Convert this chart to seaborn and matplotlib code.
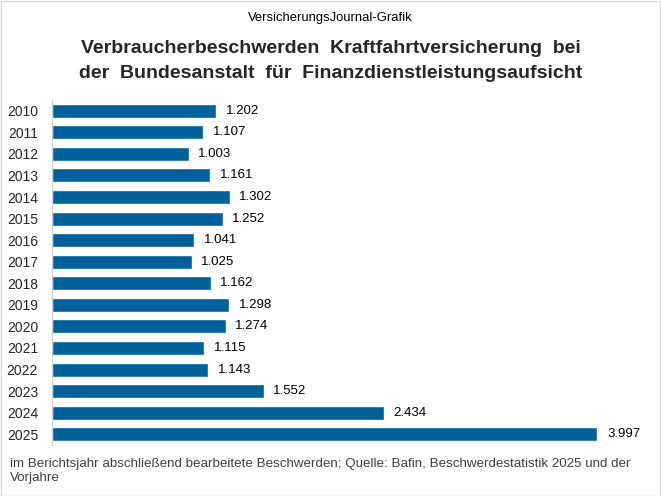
import pandas as pd
import seaborn as sns
import matplotlib.pyplot as plt
from matplotlib.patches import Rectangle

# Daten
jahre = ["2010", "2011", "2012", "2013", "2014", "2015", "2016", "2017",
         "2018", "2019", "2020", "2021", "2022", "2023", "2024", "2025"]
beschwerden = [1202, 1107, 1003, 1161, 1302, 1252, 1041, 1025,
               1162, 1298, 1274, 1115, 1143, 1552, 2434, 3997]

df = pd.DataFrame({"Jahr": jahre, "Beschwerden": beschwerden})

sns.set_style("white")
plt.rcParams["font.family"] = ["Liberation Sans", "DejaVu Sans"]

fig = plt.figure(figsize=(6.61, 4.96), dpi=100)
ax = fig.add_axes([52 / 661, 1 - 445 / 496, 580 / 661, 345 / 496])

sns.barplot(data=df, x="Beschwerden", y="Jahr", color="#00609a",
            saturation=1, width=0.65, ax=ax)

# Werte rechts neben den Balken (deutsches Tausendertrennzeichen)
for i, v in enumerate(beschwerden):
    ax.text(v + 70, i, f"{v:,}".replace(",", "."), va="center", ha="left",
            fontsize=9.5, color="black")

ax.set_xlim(0, 4250)
ax.set_ylim(15.5, -0.5)
ax.set_xlabel("")
ax.set_ylabel("")
ax.set_xticks([])
ax.tick_params(axis="y", which="major", length=0, labelsize=10, pad=10)
ax.set_yticks([i - 0.5 for i in range(17)], minor=True)
ax.tick_params(axis="y", which="minor", length=4, color="#d0d0d0", width=0.8)
for s in ["top", "right", "bottom"]:
    ax.spines[s].set_visible(False)
ax.spines["left"].set_color("#d0d0d0")
ax.spines["left"].set_linewidth(0.8)

# Texte
fig.text(0.5, 1 - 18 / 496, "VersicherungsJournal-Grafik", ha="center",
         va="center", fontsize=9.4, color="black")
fig.text(0.5, 1 - 61 / 496,
         "Verbraucherbeschwerden  Kraftfahrtversicherung  bei\n"
         "der  Bundesanstalt  für  Finanzdienstleistungsaufsicht",
         ha="center", va="center", fontsize=14, fontweight="bold",
         linespacing=1.6)
fig.text(10 / 661, 1 - 471 / 496,
         "im Berichtsjahr abschließend bearbeitete Beschwerden; Quelle: Bafin, "
         "Beschwerdestatistik 2025 und der\nVorjahre",
         ha="left", va="center", fontsize=9.6, color="#404040", linespacing=1.15)

# Rahmen
fig.patches.append(Rectangle((0.001, 0.001), 0.997, 0.997, transform=fig.transFigure,
                             fill=False, edgecolor="#d9d9d9", linewidth=1))

fig.savefig("out.png", dpi=100)
